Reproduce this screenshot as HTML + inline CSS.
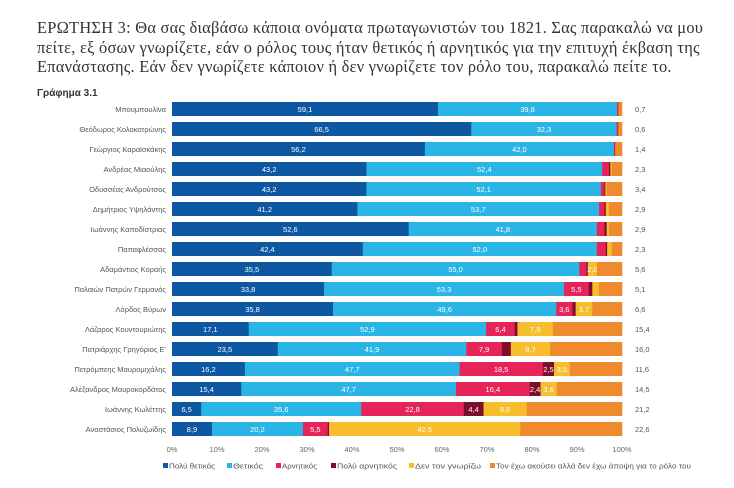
<!DOCTYPE html>
<html><head><meta charset="utf-8"><style>
body{margin:0;background:#fff;width:734px;height:488px;overflow:hidden}
.t{position:absolute;left:37px;top:18px;width:690px;font-family:"Liberation Serif","DejaVu Serif",serif;font-size:16.4px;line-height:19.6px;color:#333;white-space:nowrap;letter-spacing:0.25px}
svg{position:absolute;left:0;top:0}
</style></head><body>
<div class="t">ΕΡΩΤΗΣΗ 3: Θα σας διαβάσω κάποια ονόματα πρωταγωνιστών του 1821. Σας παρακαλώ να μου<br>πείτε, εξ όσων γνωρίζετε, εάν ο ρόλος τους ήταν θετικός ή αρνητικός για την επιτυχή έκβαση της<br>Επανάστασης. Εάν δεν γνωρίζετε κάποιον ή δεν γνωρίζετε τον ρόλο του, παρακαλώ πείτε το.</div>
<svg width="734" height="488" id="s" font-family="Liberation Sans, sans-serif"></svg>
<script>
const rows=[
["Μπουμπουλίνα",59.1,39.8,0.2,0.1,0.1,0.7],
["Θεόδωρος Κολοκοτρώνης",66.5,32.3,0.3,0.1,0.2,0.6],
["Γεώργιος Καραϊσκάκης",56.2,42.0,0.2,0.1,0.1,1.4],
["Ανδρέας Μιαούλης",43.2,52.4,1.5,0.3,0.3,2.3],
["Οδυσσέας Ανδρούτσος",43.2,52.1,0.8,0.2,0.3,3.4],
["Δημήτριος Υψηλάντης",41.2,53.7,1.2,0.3,0.7,2.9],
["Ιωάννης Καποδίστριας",52.6,41.8,1.7,0.5,0.5,2.9],
["Παπαφλέσσας",42.4,52.0,2.0,0.3,1.0,2.3],
["Αδαμάντιος Κοραής",35.5,55.0,1.6,0.3,2.0,5.6],
["Παλαιών Πατρών Γερμανός",33.8,53.3,5.5,0.8,1.5,5.1],
["Λόρδος Βύρων",35.8,49.6,3.6,0.7,3.7,6.6],
["Λάζαρος Κουντουριώτης",17.1,52.9,6.4,0.6,7.9,15.4],
["Πατριάρχης Γρηγόριος Ε'",23.5,41.9,7.9,2.0,8.7,16.0],
["Πετρόμπεης Μαυρομιχάλης",16.2,47.7,18.5,2.5,3.5,11.6],
["Αλέξανδρος Μαυροκορδάτος",15.4,47.7,16.4,2.4,3.6,14.5],
["Ιωάννης Κωλέττης",6.5,35.6,22.8,4.4,9.6,21.2],
["Αναστάσιος Πολυζωίδης",8.9,20.2,5.5,0.3,42.5,22.6]];
const col=["#0d57a3","#2bb5e6","#e6245a","#7e0f2c","#f8bd2c","#ef8a2d"];
let h='<text x="37" y="96" font-size="10" font-weight="bold" fill="#333">Γράφημα 3.1</text>';
const x0=172;
for(let g=0;g<=10;g++){h+=`<text x="${x0+g*45}" y="452" font-size="7.5" fill="#666" text-anchor="middle">${g*10}%</text>`;}
rows.forEach((r,i)=>{const yc=109+i*20.0;let x=x0;
h+=`<text x="166" y="${yc+2.8}" font-size="7.5" fill="#555" text-anchor="end">${r[0]}</text>`;
let tot=r.slice(1).reduce((a,b)=>a+b,0);
for(let k=0;k<6;k++){let w=r[k+1]*450/tot;h+=`<rect x="${x}" y="${yc-7}" width="${w+0.3}" height="14" fill="${col[k]}"/>`;
if(k<5&&w>9)h+=`<text x="${x+w/2}" y="${yc+2.8}" font-size="7.5" fill="#fff" text-anchor="middle">${r[k+1].toFixed(1).replace('.',',')}</text>`;x+=w;}
h+=`<text x="635" y="${yc+2.8}" font-size="7.5" fill="#555">${r[6].toFixed(1).replace('.',',')}</text>`;});
const lg=[["Πολύ θετικός",163,46],["Θετικός",227,30],["Αρνητικός",276,35],["Πολύ αρνητικός",331,60],["Δεν τον γνωρίζω",409,66],["Τον έχω ακούσει αλλά δεν έχω άποψη για το ρόλο του",490,195]];
lg.forEach((l,k)=>{h+=`<rect x="${l[1]}" y="463" width="5" height="5" fill="${col[k]}"/><text x="${l[1]+6}" y="468.5" font-size="7.5" fill="#555" textLength="${l[2]}" lengthAdjust="spacingAndGlyphs">${l[0]}</text>`;});
document.getElementById('s').innerHTML=h;
</script>
</body></html>
